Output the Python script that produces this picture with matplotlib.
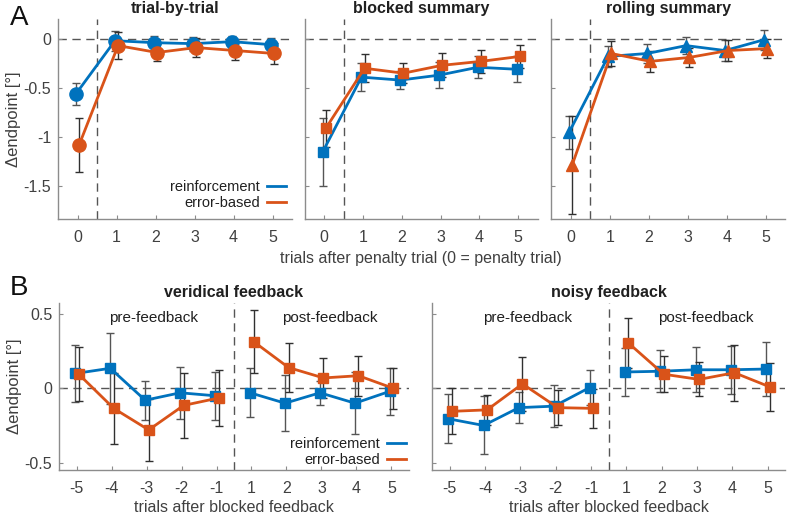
import matplotlib.pyplot as plt
from matplotlib.lines import Line2D

plt.rcParams["font.family"] = ["Liberation Sans", "DejaVu Sans"]

BLUE = "#0072BD"
ORANGE = "#D95319"
TXT = "#404040"
SPINE = "#8c8c8c"

# ---- panel A data ----
trials_a = [0, 1, 2, 3, 4, 5]

tbt_reinf = [-0.56, -0.02, -0.04, -0.05, -0.03, -0.06]
tbt_reinf_err = [0.11, 0.10, 0.07, 0.07, 0.06, 0.07]
tbt_error = [-1.08, -0.07, -0.14, -0.09, -0.12, -0.15]
tbt_error_err = [0.27, 0.14, 0.09, 0.10, 0.10, 0.11]

blk_reinf = [-1.15, -0.39, -0.42, -0.37, -0.29, -0.31]
blk_reinf_err = [0.35, 0.14, 0.09, 0.13, 0.11, 0.13]
blk_error = [-0.91, -0.30, -0.35, -0.27, -0.23, -0.18]
blk_error_err = [0.19, 0.14, 0.10, 0.12, 0.12, 0.12]

rol_reinf = [-0.95, -0.18, -0.15, -0.07, -0.12, -0.01]
rol_reinf_err = [0.17, 0.11, 0.10, 0.09, 0.11, 0.10]
rol_error = [-1.28, -0.15, -0.23, -0.19, -0.12, -0.10]
rol_error_err = [0.50, 0.13, 0.11, 0.10, 0.11, 0.10]

# ---- panel B data ----
tick_labels_b = ["-5", "-4", "-3", "-2", "-1", "1", "2", "3", "4", "5"]

ver_reinf = [0.10, 0.135, -0.08, -0.03, -0.05, -0.03, -0.10, -0.03, -0.10, -0.02]
ver_reinf_err = [0.19, 0.24, 0.13, 0.175, 0.16, 0.165, 0.19, 0.08, 0.21, 0.16]
ver_error = [0.095, -0.135, -0.28, -0.115, -0.065, 0.315, 0.14, 0.07, 0.085, 0.0]
ver_error_err = [0.18, 0.24, 0.21, 0.22, 0.19, 0.21, 0.165, 0.135, 0.135, 0.14]

noi_reinf = [-0.205, -0.25, -0.13, -0.12, 0.005, 0.11, 0.115, 0.125, 0.125, 0.13]
noi_reinf_err = [0.165, 0.195, 0.105, 0.14, 0.12, 0.16, 0.14, 0.15, 0.16, 0.18]
noi_error = [-0.155, -0.145, 0.03, -0.13, -0.135, 0.305, 0.095, 0.06, 0.105, 0.01]
noi_error_err = [0.155, 0.10, 0.18, 0.12, 0.13, 0.17, 0.12, 0.115, 0.19, 0.16]


def style_axes(ax):
    for side in ("top", "right"):
        ax.spines[side].set_visible(False)
    for side in ("left", "bottom"):
        ax.spines[side].set_color(SPINE)
        ax.spines[side].set_linewidth(1.0)
    ax.tick_params(direction="in", length=3, color=SPINE, labelcolor=TXT,
                   labelsize=11.5)
    ax.tick_params(axis="x", pad=8)
    ax.tick_params(axis="y", pad=5)


def draw_series(ax, x, y, err, color, marker, ms, ecolor, offset):
    xs = [v + offset for v in x]
    ax.errorbar(xs, y, yerr=err, fmt="none", ecolor=ecolor, elinewidth=1.0,
                capsize=3, capthick=1.0, zorder=2)
    ax.plot(xs, y, color=color, marker=marker, ms=ms, lw=2, zorder=3)


def add_legend(ax, anchor):
    handles = [Line2D([], [], color=BLUE, lw=2), Line2D([], [], color=ORANGE, lw=2)]
    ax.legend(handles, ["reinforcement", "error-based"], loc="lower right",
              bbox_to_anchor=anchor, frameon=False, markerfirst=False,
              handlelength=1.3, handletextpad=0.5, labelspacing=0.1,
              fontsize=10.5, labelcolor="#202020")


fig = plt.figure(figsize=(8, 5.14), dpi=100)

# ---- panel A ----
top_axes = [fig.add_axes([0.0725, 0.574, 0.2925, 0.389]),
            fig.add_axes([0.381, 0.574, 0.291, 0.389]),
            fig.add_axes([0.689, 0.574, 0.2925, 0.389])]
top_titles = ["trial-by-trial", "blocked summary", "rolling summary"]
top_data = [
    (tbt_reinf, tbt_reinf_err, tbt_error, tbt_error_err, "o", 9.5),
    (blk_reinf, blk_reinf_err, blk_error, blk_error_err, "s", 6.5),
    (rol_reinf, rol_reinf_err, rol_error, rol_error_err, "^", 9),
]

for i, (ax, title, d) in enumerate(zip(top_axes, top_titles, top_data)):
    r, re, e, ee, mk, ms = d
    style_axes(ax)
    ax.axhline(0, color="#555555", lw=1, ls=(0, (6, 4)), zorder=1)
    ax.axvline(0.5, color="#555555", lw=1, ls=(0, (6, 4)), zorder=1)
    draw_series(ax, trials_a, r, re, BLUE, mk, ms, "#555555", -0.04)
    draw_series(ax, trials_a, e, ee, ORANGE, mk, ms, "#303030", 0.04)
    ax.set_xlim(-0.5, 5.5)
    ax.set_ylim(-1.83, 0.2)
    ax.set_xticks(trials_a)
    ax.set_yticks([-1.5, -1, -0.5, 0])
    ax.set_title(title, fontsize=11.5, fontweight="bold", color="#202020", pad=4)
    if i == 0:
        ax.set_yticklabels(["-1.5", "-1", "-0.5", "0"])
        ax.set_ylabel("Δendpoint [°]", fontsize=12, color=TXT, labelpad=2)
        add_legend(ax, (1.03, -0.02))
    else:
        ax.set_yticklabels([])
    if i == 1:
        ax.set_xlabel("trials after penalty trial (0 = penalty trial)",
                      fontsize=11.5, color=TXT, labelpad=4)

# ---- panel B ----
pos_b = list(range(1, 11))
bot_axes = [fig.add_axes([0.074, 0.0856, 0.437, 0.325]),
            fig.add_axes([0.54, 0.0856, 0.4416, 0.325])]
bot_titles = ["veridical feedback", "noisy feedback"]
bot_data = [
    (ver_reinf, ver_reinf_err, ver_error, ver_error_err),
    (noi_reinf, noi_reinf_err, noi_error, noi_error_err),
]

for i, (ax, title, d) in enumerate(zip(bot_axes, bot_titles, bot_data)):
    r, re, e, ee = d
    style_axes(ax)
    ax.axhline(0, color="#555555", lw=1, ls=(0, (6, 4)), zorder=1)
    ax.axvline(5.5, color="#555555", lw=1, ls=(0, (6, 4)), zorder=1)
    for seg in (slice(0, 5), slice(5, 10)):
        draw_series(ax, pos_b[seg], r[seg], re[seg], BLUE, "s", 7.5, "#555555", -0.04)
        draw_series(ax, pos_b[seg], e[seg], ee[seg], ORANGE, "s", 7.5, "#303030", 0.06)
    ax.set_xlim(0.5, 10.5)
    ax.set_ylim(-0.55, 0.575)
    ax.set_xticks(pos_b)
    ax.set_xticklabels(tick_labels_b)
    ax.set_yticks([-0.5, 0, 0.5])
    ax.text(3.2, 0.475, "pre-feedback", ha="center", va="center",
            fontsize=11, color="#202020")
    ax.text(8.25, 0.475, "post-feedback", ha="center", va="center",
            fontsize=11, color="#202020")
    ax.set_title(title, fontsize=11.5, fontweight="bold", color="#202020", pad=4)
    ax.set_xlabel("trials after blocked feedback", fontsize=11.5, color=TXT,
                  labelpad=3)
    if i == 0:
        ax.set_yticklabels(["-0.5", "0", "0.5"])
        ax.set_ylabel("Δendpoint [°]", fontsize=12, color=TXT, labelpad=2)
        add_legend(ax, (1.03, -0.06))
    else:
        ax.set_yticklabels([])

fig.text(0.012, 0.965, "A", fontsize=20, va="center", ha="left", color="#101010")
fig.text(0.012, 0.44, "B", fontsize=20, va="center", ha="left", color="#101010")

fig.savefig("out.png", dpi=100)
